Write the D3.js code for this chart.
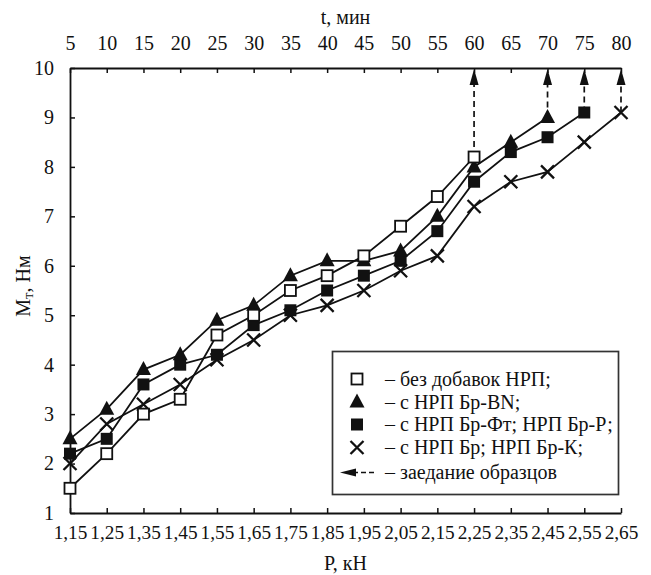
<!DOCTYPE html>
<html>
<head>
<meta charset="utf-8">
<script src="https://cdn.jsdelivr.net/npm/d3@7"></script>
<style>
  html, body { margin: 0; padding: 0; background: #fff; }
  svg { display: block; }
</style>
</head>
<body>
<svg id="chart" width="651" height="575"></svg>
<script>
// Load P (kN) and matching test time t (min)
const loadTicks = [1.15, 1.25, 1.35, 1.45, 1.55, 1.65, 1.75, 1.85, 1.95, 2.05, 2.15, 2.25, 2.35, 2.45, 2.55, 2.65];
const timeTicks = [5, 10, 15, 20, 25, 30, 35, 40, 45, 50, 55, 60, 65, 70, 75, 80];
const torqueTicks = [1, 2, 3, 4, 5, 6, 7, 8, 9, 10];

// Friction torque Mт (N·m) per load step
const noAdditive = [1.5, 2.2, 3.0, 3.3, 4.6, 5.0, 5.5, 5.8, 6.2, 6.8, 7.4, 8.2];
const brBN       = [2.5, 3.1, 3.9, 4.2, 4.9, 5.2, 5.8, 6.1, 6.1, 6.3, 7.0, 8.0, 8.5, 9.0];
const brFtBrP    = [2.2, 2.5, 3.6, 4.0, 4.2, 4.8, 5.1, 5.5, 5.8, 6.1, 6.7, 7.7, 8.3, 8.6, 9.1];
const brBrK      = [2.0, 2.8, 3.2, 3.6, 4.1, 4.5, 5.0, 5.2, 5.5, 5.9, 6.2, 7.2, 7.7, 7.9, 8.5, 9.1];

const legendLabels = [
  "– без добавок НРП;",
  "– с НРП Бр-BN;",
  "– с НРП Бр-Фт; НРП Бр-Р;",
  "– с НРП Бр; НРП Бр-К;",
  "– заедание образцов"
];

const FONT = "'Liberation Serif', 'Times New Roman', serif";
const FS = 20;
const INK = "#111";
const svg = d3.select("#chart").style("font-family", FONT);
const plotL = 70, plotR = 621, plotT = 68, plotB = 513;
const fmt = d => d.toFixed(2).replace(".", ",");

const x = d3.scaleLinear().domain([1.15, 2.65]).range([plotL, plotR]);
const xt = d3.scaleLinear().domain([5, 80]).range([plotL, plotR]);
const y = d3.scaleLinear().domain([1, 10]).range([plotB, plotT]);

const axisStyle = size => g => {
  g.attr("font-family", null).style("font-family", FONT);
  g.selectAll("path.domain").attr("stroke", INK).attr("stroke-width", 1.8);
  g.selectAll(".tick line").attr("stroke", INK).attr("stroke-width", 1.5);
  g.selectAll(".tick text").attr("font-size", size).attr("fill", INK).style("font-family", FONT);
};

// bottom axis: load
svg.append("g").attr("transform", `translate(0,${plotB})`)
  .call(d3.axisBottom(x).tickValues(loadTicks).tickFormat(fmt)
    .tickSizeInner(-5).tickSizeOuter(0).tickPadding(12))
  .call(axisStyle(19.3));

// top axis: time
svg.append("g").attr("transform", `translate(0,${plotT})`)
  .call(d3.axisTop(xt).tickValues(timeTicks).tickFormat(d3.format("d"))
    .tickSizeInner(-5).tickSizeOuter(0).tickPadding(18))
  .call(axisStyle(FS));

// left axis: torque
svg.append("g").attr("transform", `translate(${plotL},0)`)
  .call(d3.axisLeft(y).tickValues(torqueTicks).tickFormat(d3.format("d"))
    .tickSizeInner(-5).tickSizeOuter(0).tickPadding(16))
  .call(axisStyle(FS));

const label = sel => sel.style("font-family", FONT).attr("fill", INK).attr("font-size", FS);

// axis titles
svg.append("text").call(label).attr("x", (plotL + plotR) / 2).attr("y", 24)
  .attr("text-anchor", "middle").text("t, мин");
svg.append("text").call(label).attr("x", (plotL + plotR) / 2).attr("y", 570)
  .attr("text-anchor", "middle").text("P, кН");
const yt = svg.append("text").call(label).attr("transform", "translate(30,286) rotate(-90)")
  .attr("text-anchor", "middle");
yt.append("tspan").text("M");
yt.append("tspan").attr("font-size", 15).attr("dy", 3).text("т");
yt.append("tspan").attr("dy", -3).text(", Нм");

// marker shapes
const markers = {
  openSquare: (g, cx, cy) => g.append("rect").attr("x", cx - 5.5).attr("y", cy - 5.5)
    .attr("width", 11).attr("height", 11).attr("fill", "#fff").attr("stroke", INK).attr("stroke-width", 1.8),
  triangle: (g, cx, cy) => g.append("path")
    .attr("d", `M${cx},${cy - 8.5}L${cx + 7.5},${cy + 5.5}L${cx - 7.5},${cy + 5.5}Z`).attr("fill", INK),
  filledSquare: (g, cx, cy) => g.append("rect").attr("x", cx - 6).attr("y", cy - 6)
    .attr("width", 12).attr("height", 12).attr("fill", INK),
  cross: (g, cx, cy) => g.append("path")
    .attr("d", `M${cx - 6.5},${cy - 6.5}L${cx + 6.5},${cy + 6.5}M${cx + 6.5},${cy - 6.5}L${cx - 6.5},${cy + 6.5}`)
    .attr("stroke", INK).attr("stroke-width", 2.3).attr("fill", "none")
};

const series = [
  { values: brBrK, marker: "cross" },
  { values: brFtBrP, marker: "filledSquare" },
  { values: brBN, marker: "triangle" },
  { values: noAdditive, marker: "openSquare" }
];

const line = d3.line().x((d, i) => x(loadTicks[i])).y(d => y(d));

// seizure: dashed arrow from the last point of each series to the top axis
const arrows = svg.append("g");
series.forEach(s => {
  const i = s.values.length - 1;
  const px = x(loadTicks[i]);
  arrows.append("line").attr("x1", px).attr("x2", px)
    .attr("y1", y(s.values[i])).attr("y2", plotT + 14)
    .attr("stroke", INK).attr("stroke-width", 1.7).attr("stroke-dasharray", "6,4");
  arrows.append("path")
    .attr("d", `M${px},${plotT + 1}L${px + 4.5},${plotT + 17}L${px - 4.5},${plotT + 17}Z`).attr("fill", INK);
});

series.forEach(s => {
  svg.append("path").datum(s.values).attr("d", line)
    .attr("fill", "none").attr("stroke", INK).attr("stroke-width", 1.8);
});
series.forEach(s => {
  const g = svg.append("g");
  s.values.forEach((v, i) => markers[s.marker](g, x(loadTicks[i]), y(v)));
});

// legend
const lg = svg.append("g");
lg.append("rect").attr("x", 332.5).attr("y", 351.5).attr("width", 286).attr("height", 143)
  .attr("fill", "#fff").attr("stroke", "#333").attr("stroke-width", 1.7);
const rowY = [379, 402, 424.5, 447.5, 472.5];
const legendMarkers = ["openSquare", "triangle", "filledSquare", "cross"];
legendMarkers.forEach((m, i) => markers[m](lg, 357, rowY[i]));
lg.append("line").attr("x1", 353).attr("x2", 374).attr("y1", rowY[4]).attr("y2", rowY[4])
  .attr("stroke", INK).attr("stroke-width", 1.7).attr("stroke-dasharray", "5,3");
lg.append("path").attr("d", `M340,${rowY[4]}L356,${rowY[4] - 4}L356,${rowY[4] + 4}Z`).attr("fill", INK);
legendLabels.forEach((t, i) => {
  lg.append("text").call(label).attr("x", 385).attr("y", rowY[i]).attr("dy", "0.33em").text(t);
});
</script>
</body>
</html>
